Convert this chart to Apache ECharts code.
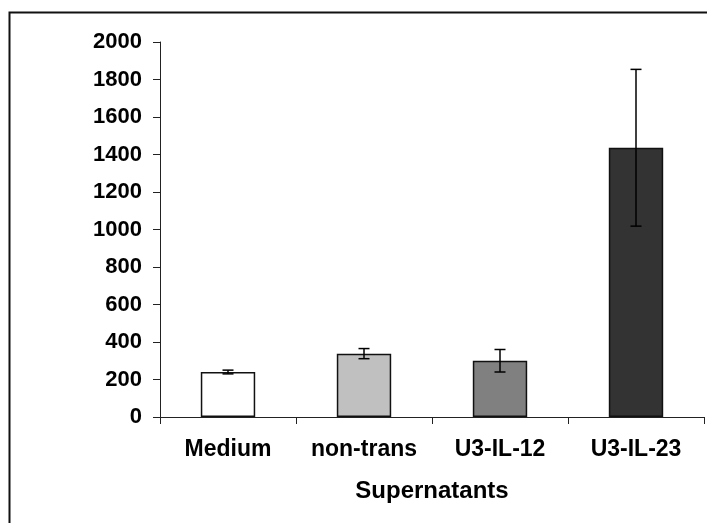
<!DOCTYPE html>
<html>
<head>
<meta charset="utf-8">
<script src="https://cdn.jsdelivr.net/npm/echarts@6/dist/echarts.min.js"></script>
<style>
  html, body { margin: 0; padding: 0; background: #fff; }
  #chart { width: 707px; height: 523px; }
</style>
</head>
<body>
<div id="chart"></div>
<script>
// Supernatant groups and their measured means with error (± SD)
const categories = ['Medium', 'non-trans', 'U3-IL-12', 'U3-IL-23'];
const means = [240, 338, 300, 1436];
const errors = [10, 27, 60, 418];
const barColors = ['#ffffff', '#c0c0c0', '#808080', '#333333'];
const yTicks = { min: 0, max: 2000, step: 200 };

const FONT = '"Liberation Sans", Arial, sans-serif';

const chart = echarts.init(document.getElementById('chart'), null, { renderer: 'canvas' });

const errorData = categories.map((c, i) => [i, means[i] - errors[i], means[i] + errors[i]]);

chart.setOption({
  animation: false,
  backgroundColor: '#ffffff',
  graphic: [{
    type: 'rect',
    left: 7, top: 10,
    shape: { width: 760, height: 560 },
    style: { fill: 'none', stroke: '#111', lineWidth: 2 },
    silent: true
  }],
  grid: { left: 160, right: 3, top: 42, bottom: 106, containLabel: false },
  xAxis: {
    type: 'category',
    data: categories,
    boundaryGap: true,
    name: 'Supernatants',
    nameLocation: 'middle',
    nameGap: 62,
    nameTextStyle: { fontFamily: FONT, fontWeight: 'bold', fontSize: 24, color: '#000' },
    axisLine: { lineStyle: { color: '#222', width: 1 } },
    axisTick: { show: true, alignWithLabel: false, length: 7, inside: false, lineStyle: { color: '#222' } },
    axisLabel: { fontFamily: FONT, fontWeight: 'bold', fontSize: 23, color: '#000', margin: 21, interval: 0 },
    splitLine: { show: false }
  },
  yAxis: {
    type: 'value',
    min: yTicks.min, max: yTicks.max, interval: yTicks.step,
    axisLine: { show: true, lineStyle: { color: '#222', width: 1 } },
    axisTick: { show: true, length: 7, lineStyle: { color: '#222' } },
    axisLabel: {
      fontFamily: FONT, fontWeight: 'bold', fontSize: 22, color: '#000', margin: 18,
      formatter: v => String(v)
    },
    splitLine: { show: false }
  },
  series: [
    {
      type: 'bar',
      barWidth: '40%',
      data: means.map((v, i) => ({
        value: v,
        itemStyle: { color: barColors[i], borderColor: '#111', borderWidth: 1.5 }
      })),
      z: 2
    },
    {
      type: 'custom',
      z: 3,
      data: errorData,
      renderItem: function (params, api) {
        const x = api.value(0);
        const lo = api.coord([x, api.value(1)]);
        const hi = api.coord([x, api.value(2)]);
        const half = 5.5;
        const style = { stroke: '#000', lineWidth: 1.5, fill: 'none' };
        return {
          type: 'group',
          children: [
            { type: 'line', shape: { x1: lo[0], y1: lo[1], x2: hi[0], y2: hi[1] }, style: style },
            { type: 'line', shape: { x1: hi[0] - half, y1: hi[1], x2: hi[0] + half, y2: hi[1] }, style: style },
            { type: 'line', shape: { x1: lo[0] - half, y1: lo[1], x2: lo[0] + half, y2: lo[1] }, style: style }
          ]
        };
      }
    }
  ]
});
</script>
</body>
</html>
